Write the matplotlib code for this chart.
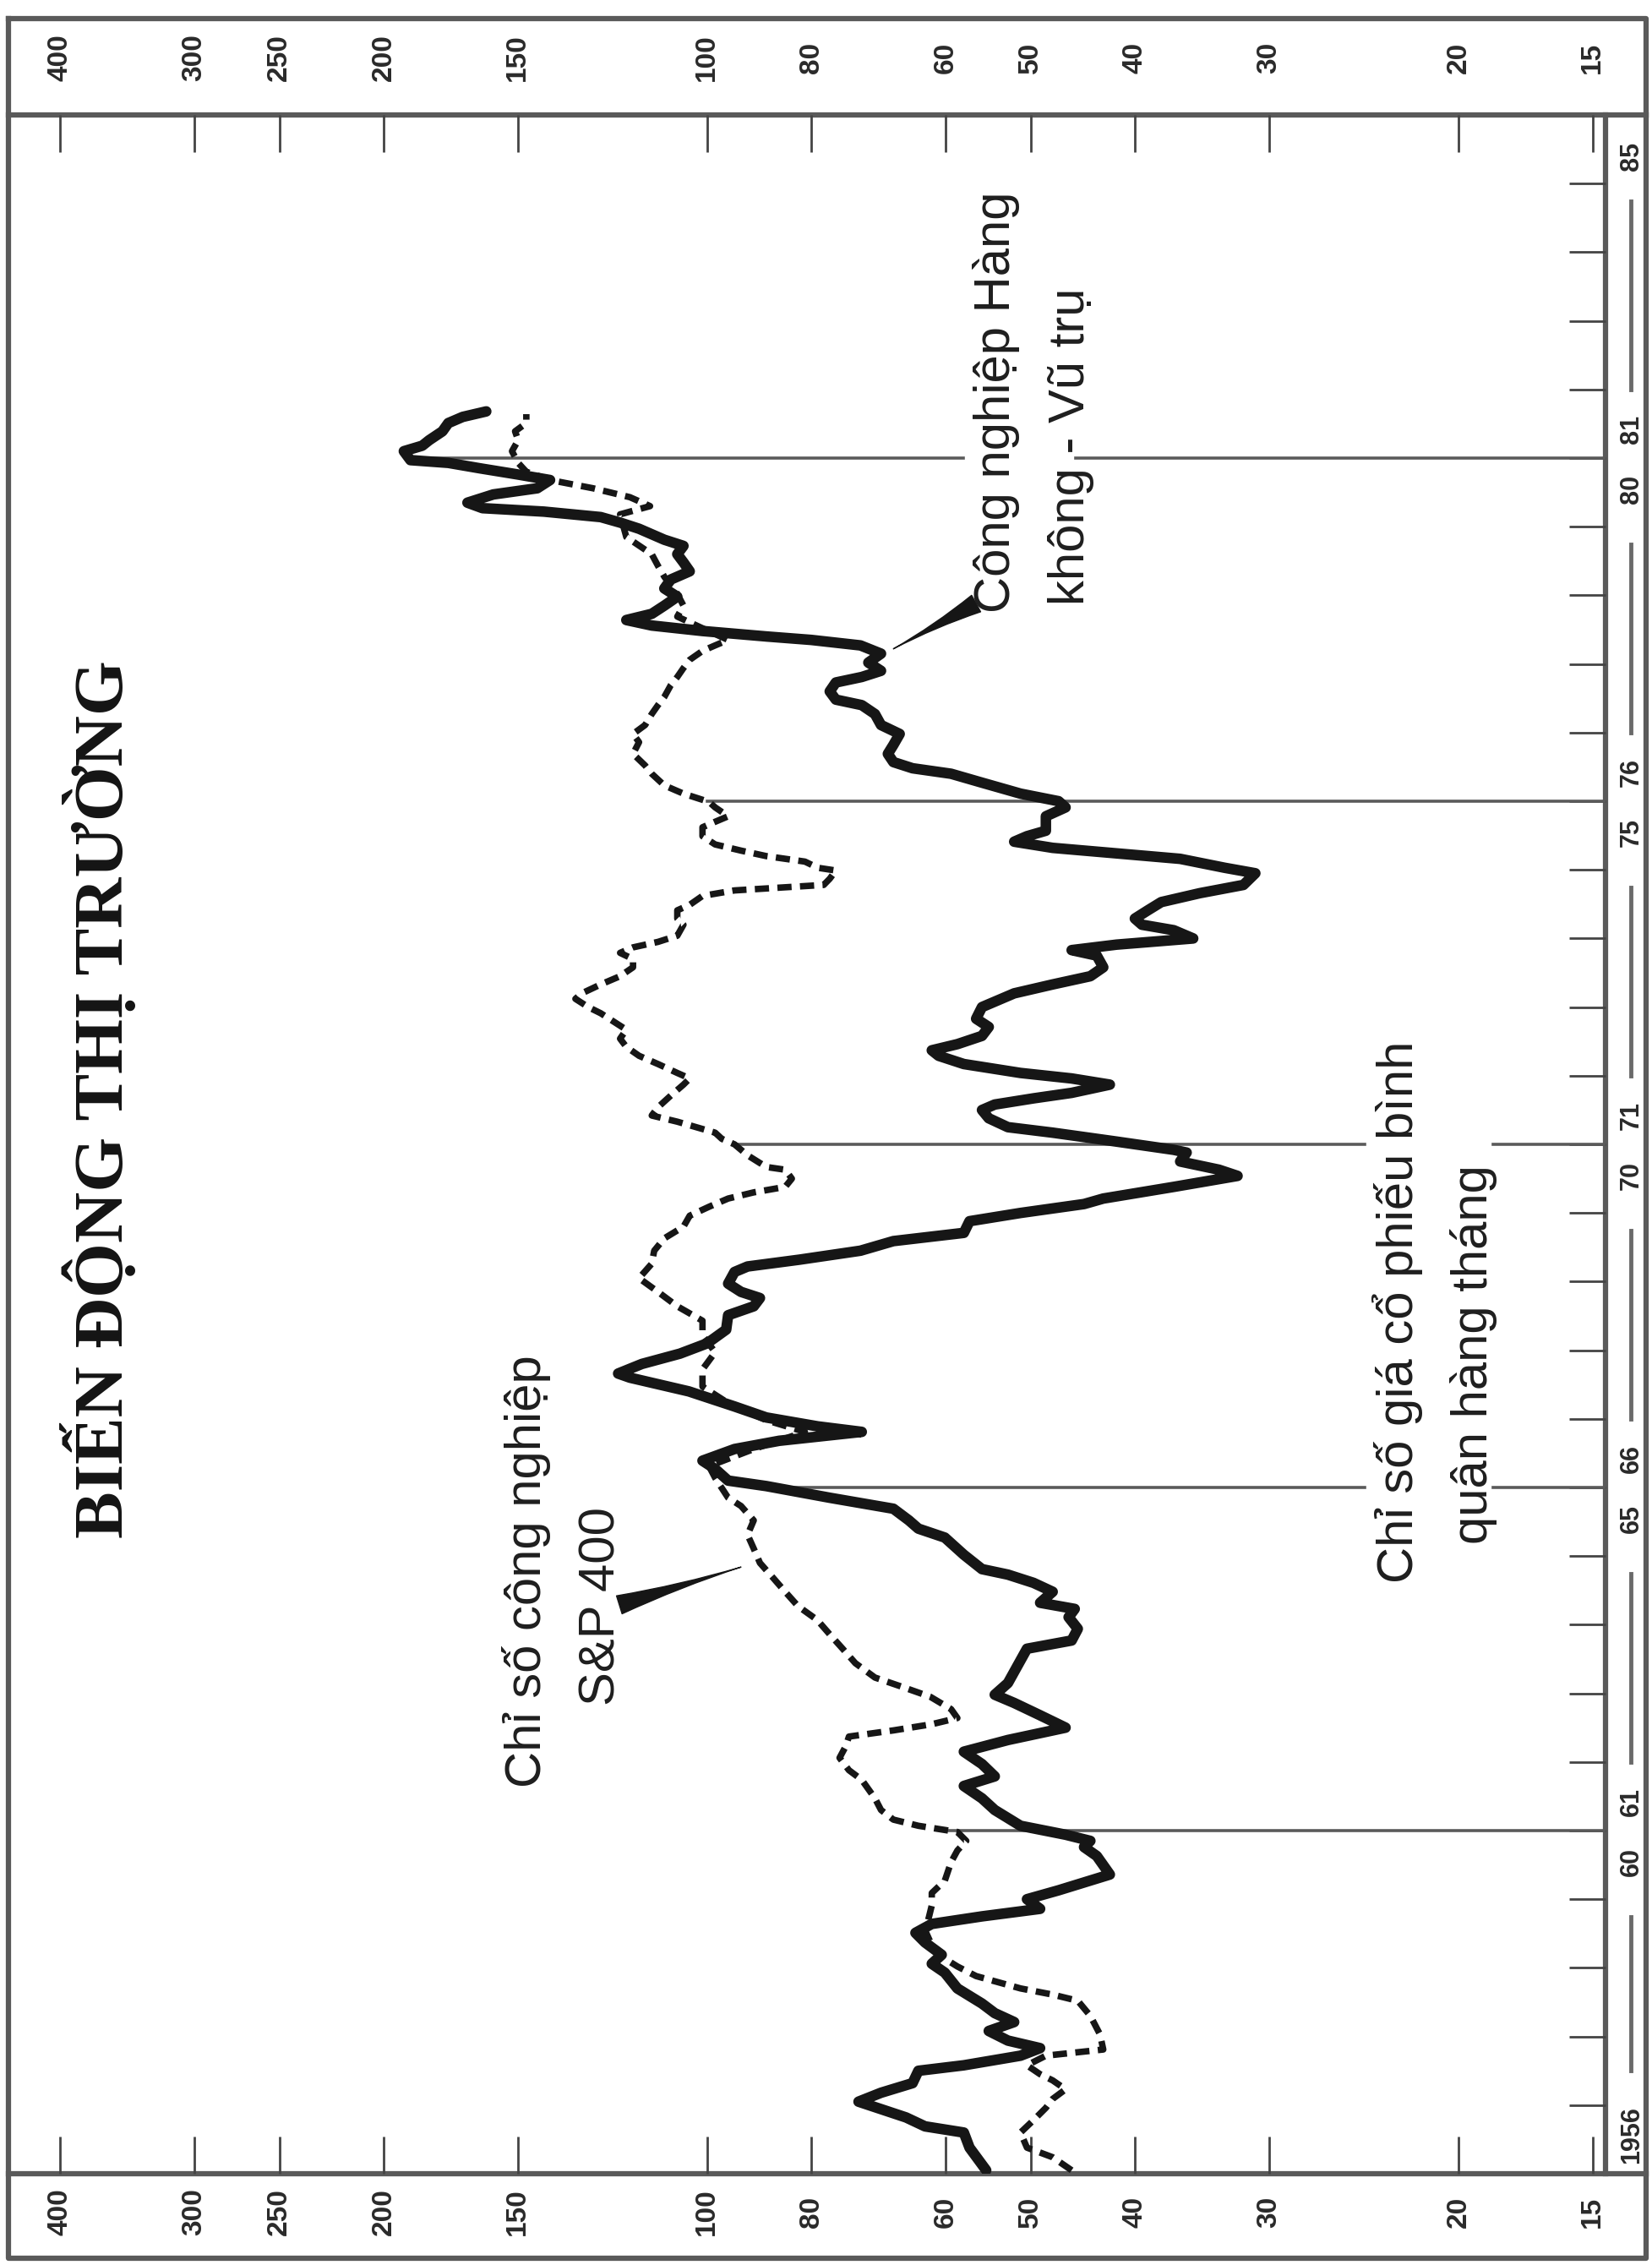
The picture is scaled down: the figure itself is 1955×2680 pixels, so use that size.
"""Biến động thị trường: aerospace index vs S&P 400, log scale, drawn rotated.

The original page is printed sideways: years run bottom -> top, the log
value axis runs right -> left. We draw it that way directly.
"""

import matplotlib
matplotlib.use("Agg")
import matplotlib.pyplot as plt
import numpy as np
from matplotlib import font_manager as fm
from matplotlib.ticker import NullLocator
from matplotlib.transforms import blended_transform_factory

# thick line: Công nghiệp Hàng không - Vũ trụ (monthly average)
AERO_YEAR = [1956.05, 1956.38, 1956.60, 1956.69, 1956.82, 1957.05, 1957.18, 1957.32, 1957.50, 1957.58,
             1957.72, 1957.83, 1957.94, 1958.08, 1958.21, 1958.34, 1958.48, 1958.70, 1958.93, 1959.06,
             1959.19, 1959.37, 1959.51, 1959.64, 1959.75, 1959.86, 1960.00, 1960.13, 1960.36, 1960.63,
             1960.76, 1960.85, 1960.94, 1961.07, 1961.30, 1961.47, 1961.65, 1961.79, 1961.97, 1962.15,
             1962.32, 1962.50, 1962.68, 1962.86, 1962.98, 1963.15, 1963.48, 1963.65, 1963.77, 1963.94,
             1964.11, 1964.23, 1964.32, 1964.48, 1964.61, 1964.73, 1964.81, 1965.02, 1965.27, 1965.40,
             1965.52, 1965.69, 1965.85, 1966.02, 1966.10, 1966.27, 1966.39, 1966.56, 1966.68, 1966.81,
             1966.89, 1967.02, 1967.18, 1967.40, 1967.60, 1967.66, 1967.80, 1967.95, 1968.10, 1968.30,
             1968.51, 1968.64, 1968.76, 1968.85, 1968.97, 1969.14, 1969.22, 1969.32, 1969.45, 1969.59,
             1969.71, 1969.88, 1970.00, 1970.13, 1970.21, 1970.38, 1970.54, 1970.63, 1970.75, 1970.88,
             1970.92, 1971.04, 1971.17, 1971.25, 1971.38, 1971.50, 1971.58, 1971.67, 1971.75, 1971.87,
             1971.96, 1972.04, 1972.17, 1972.29, 1972.37, 1972.46, 1972.58, 1972.71, 1972.83, 1973.00,
             1973.20, 1973.33, 1973.45, 1973.58, 1973.75, 1973.83, 1973.91, 1974.00, 1974.12, 1974.20,
             1974.29, 1974.41, 1974.53, 1974.66, 1974.78, 1974.95, 1975.03, 1975.16, 1975.24, 1975.32,
             1975.41, 1975.49, 1975.57, 1975.78, 1975.91, 1976.00, 1976.11, 1976.27, 1976.40, 1976.48,
             1976.57, 1976.69, 1976.82, 1976.98, 1977.11, 1977.27, 1977.40, 1977.48, 1977.60, 1977.73,
             1977.81, 1977.90, 1978.02, 1978.15, 1978.27, 1978.35, 1978.40, 1978.48, 1978.56, 1978.64,
             1978.73, 1978.85, 1978.98, 1979.10, 1979.23, 1979.35, 1979.48, 1979.60, 1979.72, 1979.81,
             1979.97, 1980.06, 1980.14, 1980.22, 1980.27, 1980.35, 1980.47, 1980.56, 1980.68, 1980.76,
             1980.85, 1980.93, 1980.97, 1981.10, 1981.18, 1981.26, 1981.39, 1981.51, 1981.60, 1981.68]
AERO_VAL = [55.0, 57.0, 57.7, 62.7, 65.3, 72.3, 68.9, 64.4, 63.6, 57.7,
            51.1, 49.0, 52.5, 54.7, 51.8, 54.0, 55.5, 58.5, 60.1, 61.8,
            60.5, 62.7, 64.0, 61.8, 55.5, 49.0, 50.4, 47.1, 42.2, 43.4,
            44.6, 44.0, 46.4, 51.1, 54.0, 55.5, 57.7, 54.0, 55.5, 57.7,
            52.5, 46.4, 49.0, 51.8, 54.0, 52.5, 51.1, 50.4, 45.8, 45.2,
            46.1, 45.5, 49.0, 47.7, 49.7, 52.5, 55.5, 57.7, 60.1, 63.6,
            64.9, 67.1, 76.9, 88.1, 95.6, 98.3, 101.0, 94.3, 85.7, 71.8,
            78.9, 88.1, 94.3, 104.0, 118.0, 121.0, 115.0, 106.0, 100.0, 96.0,
            95.6, 90.5, 89.3, 93.0, 95.6, 94.3, 91.7, 82.0, 72.0, 67.1,
            57.7, 57.0, 51.1, 44.6, 42.8, 36.8, 32.1, 33.4, 36.3, 35.8,
            36.8, 41.6, 47.7, 52.5, 54.7, 55.5, 54.0, 49.7, 45.8, 42.2,
            45.8, 51.1, 57.7, 60.9, 61.8, 58.5, 55.5, 54.7, 56.2, 55.5,
            51.8, 47.7, 44.0, 42.8, 43.4, 45.8, 41.6, 35.3, 36.8, 39.4,
            40.0, 38.9, 37.8, 34.8, 31.7, 30.9, 33.0, 36.3, 41.6, 47.7,
            51.8, 50.4, 48.4, 48.4, 46.4, 47.1, 51.1, 55.5, 59.3, 64.4,
            67.1, 67.9, 67.1, 66.2, 68.9, 69.8, 71.8, 75.9, 76.9, 75.9,
            71.8, 68.9, 70.8, 68.9, 72.0, 80.0, 88.0, 101.0, 112.6, 118.9,
            112.6, 109.6, 106.6, 109.6, 108.1, 103.8, 105.2, 106.6, 105.2, 109.6,
            115.7, 120.5, 125.6, 141.9, 161.8, 167.1, 158.1, 143.9, 140.0, 149.9,
            162.6, 174.1, 188.8, 191.5, 184.1, 181.4, 176.3, 174.1, 168.8, 160.5]

# dashed line: Chỉ số công nghiệp S&P 400
SP_YEAR = [1956.05, 1956.24, 1956.38, 1956.60, 1956.78, 1956.96, 1957.09, 1957.23, 1957.36, 1957.45,
           1957.58, 1957.72, 1957.81, 1958.03, 1958.30, 1958.52, 1958.61, 1958.70, 1958.88, 1959.02,
           1959.19, 1959.33, 1959.55, 1959.73, 1959.91, 1960.09, 1960.27, 1960.54, 1960.71, 1960.85,
           1960.98, 1961.07, 1961.16, 1961.30, 1961.47, 1961.74, 1961.88, 1962.06, 1962.23, 1962.37,
           1962.46, 1962.55, 1962.64, 1962.77, 1962.95, 1963.10, 1963.23, 1963.44, 1963.65, 1963.86,
           1964.07, 1964.27, 1964.48, 1964.69, 1964.90, 1965.11, 1965.31, 1965.52, 1965.73, 1965.85,
           1966.14, 1966.31, 1966.56, 1966.81, 1966.98, 1967.23, 1967.47, 1967.72, 1967.97, 1968.22,
           1968.43, 1968.64, 1968.85, 1969.05, 1969.26, 1969.45, 1969.63, 1969.80, 1969.96, 1970.09,
           1970.21, 1970.30, 1970.38, 1970.50, 1970.63, 1970.67, 1970.84, 1971.00, 1971.08, 1971.17,
           1971.25, 1971.33, 1971.42, 1971.54, 1971.71, 1971.87, 1971.96, 1972.04, 1972.17, 1972.29,
           1972.42, 1972.54, 1972.67, 1972.79, 1972.91, 1973.00, 1973.12, 1973.20, 1973.33, 1973.45,
           1973.58, 1973.70, 1973.79, 1973.87, 1973.95, 1974.04, 1974.20, 1974.29, 1974.41, 1974.49,
           1974.62, 1974.70, 1974.74, 1974.78, 1974.87, 1974.99, 1975.03, 1975.12, 1975.20, 1975.28,
           1975.37, 1975.49, 1975.62, 1975.70, 1975.78, 1975.91, 1975.99, 1976.11, 1976.23, 1976.40,
           1976.52, 1976.69, 1976.86, 1976.98, 1977.11, 1977.27, 1977.40, 1977.52, 1977.69, 1977.81,
           1977.94, 1978.06, 1978.19, 1978.27, 1978.35, 1978.52, 1978.69, 1978.85, 1979.02, 1979.27,
           1979.43, 1979.60, 1979.85, 1980.18, 1980.30, 1980.43, 1980.56, 1980.68, 1980.80, 1980.93,
           1981.10, 1981.26, 1981.39, 1981.51, 1981.64]
SP_VAL = [45.8, 47.7, 50.4, 51.1, 49.7, 48.4, 47.7, 46.4, 47.7, 49.0,
          50.4, 48.4, 42.8, 43.1, 44.0, 45.2, 47.7, 51.1, 56.2, 58.5,
          60.9, 61.8, 62.7, 62.2, 61.8, 61.8, 60.1, 59.3, 58.5, 57.4,
          58.5, 63.6, 67.1, 68.9, 69.8, 71.8, 73.8, 75.3, 74.3, 73.8,
          67.1, 61.8, 58.5, 59.3, 62.0, 66.0, 69.8, 72.8, 74.8, 76.9,
          79.0, 82.3, 84.6, 86.9, 89.3, 90.5, 91.7, 90.5, 93.0, 95.6,
          98.3, 99.6, 90.5, 81.1, 88.1, 95.6, 101.0, 101.0, 98.3, 101.0,
          101.0, 106.6, 111.1, 115.7, 112.6, 112.0, 109.6, 105.2, 103.8, 99.6,
          95.6, 90.5, 84.6, 83.4, 84.6, 88.1, 91.7, 94.3, 96.9, 98.3,
          102.4, 106.6, 112.6, 111.1, 108.1, 105.2, 103.8, 106.6, 111.1, 115.7,
          118.9, 120.5, 118.9, 122.2, 125.6, 129.0, 132.6, 130.8, 125.6, 120.5,
          117.2, 117.2, 120.5, 117.2, 111.1, 106.6, 105.2, 106.6, 106.6, 103.8,
          101.0, 94.3, 85.7, 77.9, 76.9, 75.9, 78.9, 81.1, 88.1, 93.0,
          98.3, 101.0, 101.0, 98.3, 95.6, 98.3, 99.6, 105.2, 109.6, 112.6,
          114.2, 117.2, 115.7, 117.2, 114.2, 112.6, 111.1, 109.6, 108.1, 106.6,
          105.2, 103.8, 101.0, 98.3, 95.6, 101.0, 106.6, 105.2, 106.6, 109.6,
          111.1, 112.6, 118.9, 120.5, 113.0, 118.0, 127.7, 140.0, 147.3, 149.9,
          151.9, 149.9, 150.9, 147.3, 147.3]

VALUE_TICKS = [400, 300, 250, 200, 150, 100, 80, 60, 50, 40, 30, 20, 15]
MARK_YEARS = [1961, 1966, 1971, 1976, 1981]          # long lines at the year breaks
MARK_FROM = ["sp", "aero", "sp", "sp", "aero"]       # which curve each line leaves from
YEAR_LABELS = ["1956", "60", "61", "65", "66", "70", "71", "75", "76", "80", "81", "85"]

TITLE = "BIẾN ĐỘNG THỊ TRƯỜNG"
SP_LABEL = ["Chỉ số công nghiệp", "S&P 400"]
AERO_LABEL = ["Công nghiệp Hàng", "không - Vũ trụ"]
AVG_LABEL = ["Chỉ số giá cổ phiếu bình", "quân hàng tháng"]

# page geometry (pixels of the 1955 x 2680 scan)
W, H = 1955, 2680
X400, PX_DEC = 71, 1272              # x of the 400 tick, pixels per decade
PLOT_L, PLOT_R, PLOT_T, PLOT_B = 10, 1900, 136, 2572
INK = "#161616"
GREY = "#5a5a5a"

names = {f.name for f in fm.fontManager.ttflist}
NARROW = "Liberation Sans Narrow" in names
SANS = ["Liberation Sans Narrow" if NARROW else "Liberation Sans", "DejaVu Sans"]
LBL_SIZE = 49 if NARROW else 43


def px_to_val(x):
    return 400 / 10 ** ((x - X400) / PX_DEC)


fig = plt.figure(figsize=(W / 100, H / 100), dpi=100)
fr = fig.add_axes([0, 0, 1, 1])
fr.set_xlim(0, W)
fr.set_ylim(H, 0)
fr.axis("off")

ax = fig.add_axes([PLOT_L / W, (H - PLOT_B) / H, (PLOT_R - PLOT_L) / W, (PLOT_B - PLOT_T) / H])
ax.patch.set_alpha(0)
ax.set_xscale("log")
ax.set_xlim(px_to_val(PLOT_L), px_to_val(PLOT_R))
ax.set_ylim(1956, 1986)
for s in ax.spines.values():
    s.set_visible(False)
ax.set_xticks(VALUE_TICKS)
ax.xaxis.set_minor_locator(NullLocator())
ax.tick_params(axis="x", direction="in", length=32, width=2, color="#444444",
               top=True, bottom=True, labelbottom=False, labeltop=False)
ax.set_yticks(np.arange(1957, 1986))
ax.yaxis.set_minor_locator(NullLocator())
ax.tick_params(axis="y", direction="in", length=31, width=2, color="#444444",
               left=False, right=True, labelleft=False, labelright=False)

# frame and bands
fkw = dict(color=GREY, lw=4.5, solid_capstyle="projecting")
fr.plot([PLOT_L, 1948, 1948, PLOT_L, PLOT_L], [22, 22, 2672, 2672, 22], **fkw)
fr.plot([PLOT_L, 1948], [PLOT_T, PLOT_T], **fkw)
fr.plot([PLOT_L, 1948], [PLOT_B, PLOT_B], **fkw)
fr.plot([PLOT_R, PLOT_R], [PLOT_T, PLOT_B], **fkw)

# value labels in the top and bottom bands
tv = blended_transform_factory(ax.transData, fr.transData)
for v in VALUE_TICKS:
    for yy in (68, 2617):
        fr.text(v, yy, str(v), transform=tv, rotation=90, ha="center", va="center",
                fontsize=24, fontweight="bold", family=["Liberation Sans", "DejaVu Sans"], color="#2a2a2a")

# year labels in the right band, paired around each break
ty = blended_transform_factory(fr.transData, ax.transData)
starts = [1956] + MARK_YEARS
pos = [1956.57]
for b in MARK_YEARS:
    pos += [b - 0.45, b + 0.42]
pos.append(1985.4)
for lab, p in zip(YEAR_LABELS, pos):
    fr.text(1931, p, lab, transform=ty, rotation=90, ha="center", va="center",
            fontsize=22, fontweight="bold", family=["Liberation Sans", "DejaVu Sans"], color="#2a2a2a")
for b in starts:
    lo = b + (1.5 if b == 1956 else 1.0)
    fr.plot([1930, 1930], [lo, b + 3.75], transform=ty, color="#6a6a6a", lw=3.5)

# curves
ax.plot(SP_VAL, SP_YEAR, color=INK, lw=5.5, dashes=(2.2, 1.3), zorder=3)
ax.plot(AERO_VAL, AERO_YEAR, color=INK, lw=9, solid_joinstyle="round", solid_capstyle="round", zorder=4)

# long reference lines at the year breaks, with gaps where they meet the labels
gaps = {1966: (px_to_val(1615), px_to_val(1767)),
        1971: (px_to_val(1615), px_to_val(1767)),
        1981: (px_to_val(1140), px_to_val(1273))}
for b, src in zip(MARK_YEARS, MARK_FROM):
    yrs, vals = (SP_YEAR, SP_VAL) if src == "sp" else (AERO_YEAR, AERO_VAL)
    v0 = float(np.exp(np.interp(b, yrs, np.log(vals))))
    v1 = px_to_val(PLOT_R)
    if b in gaps:
        ga, gb = gaps[b]
        segs = [(v0, ga), (gb, v1)]
    else:
        segs = [(v0, v1)]
    for a, c in segs:
        ax.plot([a, c], [b, b], color=GREY, lw=2.6, zorder=2)

# texts (printed sideways, reading upwards)
tkw = dict(rotation=90, rotation_mode="anchor", ha="left", va="baseline",
           fontsize=LBL_SIZE, family=SANS, color="#1e1e1e", zorder=6)
ax.text(px_to_val(640), 1961.63, SP_LABEL[0], **tkw)
ax.text(px_to_val(728), 1962.82, SP_LABEL[1], **tkw)
ax.text(px_to_val(1195), 1978.75, AERO_LABEL[0], **tkw)
ax.text(px_to_val(1283), 1978.86, AERO_LABEL[1], **tkw)
ax.text(px_to_val(1672), 1964.61, AVG_LABEL[0], **tkw)
ax.text(px_to_val(1760), 1965.17, AVG_LABEL[1], **tkw)

ax.text(px_to_val(145), 1971.66, TITLE, rotation=90, rotation_mode="anchor", ha="center",
        va="baseline", fontsize=60, fontweight="bold", family=["Liberation Serif", "DejaVu Serif"],
        color="#141414")

# pointer wedges, thick end at the label
wkw = dict(arrowstyle="wedge,tail_width=0.8,shrink_factor=0.3", color=INK, shrinkA=0, shrinkB=0,
           mutation_scale=20)
ax.annotate("", xy=(93.0, 1964.84), xytext=(120.7, 1964.29), arrowprops=wkw, zorder=5)
ax.annotate("", xy=(67.1, 1978.22), xytext=(56.2, 1978.88), arrowprops=wkw, zorder=5)

fig.savefig("out.png", dpi=100, facecolor="white")
